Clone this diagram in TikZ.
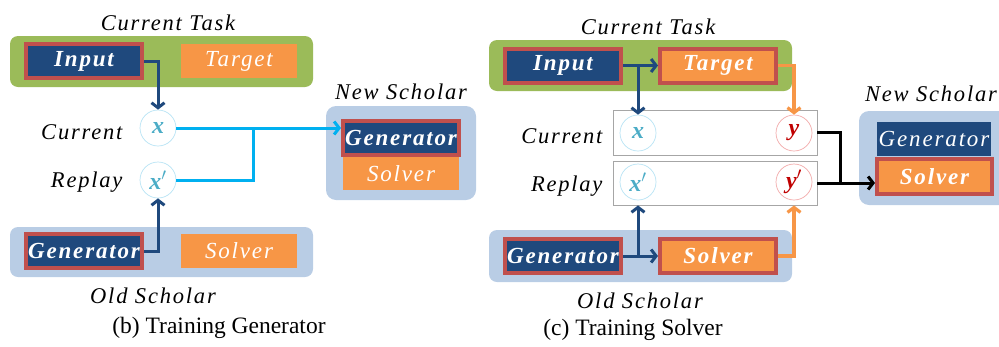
\documentclass[tikz,border=0pt]{standalone}
\usepackage{fontspec}
\setmainfont{Liberation Serif}
\newfontfamily\spacedfont[LetterSpace=8]{Liberation Serif}
\usetikzlibrary{arrows.meta}
\definecolor{navy}{HTML}{1F497D}
\definecolor{redb}{HTML}{C0504D}
\definecolor{orng}{HTML}{F79646}
\definecolor{grn}{HTML}{9BBB59}
\definecolor{pale}{HTML}{B9CDE5}
\definecolor{cyn}{HTML}{00B0F0}
\definecolor{teal}{HTML}{4BACC6}
\definecolor{dred}{HTML}{C00000}
\definecolor{xring}{HTML}{B7E3F4}
\definecolor{yring}{HTML}{F2A9A9}
\begin{document}
\begin{tikzpicture}[x=1pt,y=-1pt,>={Straight Barb[length=5pt,width=13pt]},
    box/.style={minimum width=116pt,minimum height=34pt,inner sep=0pt,text=white,
      font=\spacedfont\itshape\fontsize{23}{23}\selectfont},
    hot/.style={box,draw=redb,line width=4pt,font=\spacedfont\bfseries\itshape\fontsize{23}{23}\selectfont},
    gen/.style={fill=navy},
    sol/.style={fill=orng},
    var/.style={circle,minimum size=36pt,inner sep=0pt,line width=0.7pt,
      font=\bfseries\itshape\fontsize{24}{24}\selectfont},
    xvar/.style={var,draw=xring,text=teal},
    yvar/.style={var,draw=yring,text=dred},
    row/.style={draw=gray!70,line width=0.8pt,minimum width=204pt,inner sep=0pt},
    lbl/.style={font=\spacedfont\itshape\fontsize{22.5}{22.5}\selectfont},
    capt/.style={font=\fontsize{23.5}{23.5}\selectfont},
    navyline/.style={draw=navy,line width=3pt},
    cynline/.style={draw=cyn,line width=3pt},
    orline/.style={draw=orng,line width=3.2pt},
    blkline/.style={draw=black,line width=3pt}]
    \useasboundingbox (0,0) rectangle (999,346);

    % (b) training generator
    \fill[grn,rounded corners=8pt] (10,36) rectangle (313,87);
    \fill[pale,rounded corners=8pt] (10,227) rectangle (313,277);
    \fill[pale,rounded corners=10pt] (326,106) rectangle (476,200);
    \node[lbl] (bTaskLbl) at (168,23) {Current Task};
    \node[lbl] (bOldLbl) at (153,296) {Old Scholar};
    \node[lbl] (bNewLbl) at (401,92) {New Scholar};
    \node[capt] (bCap) at (219,328) {(b) Training Generator};

    \node[hot,gen] (bInput) at (84,61) {Input};
    \node[box,sol] (bTarget) at (239,61) {Target};
    \node[hot,gen] (bGen) at (84,251) {Generator};
    \node[box,sol] (bSol) at (239,251) {Solver};
    \node[hot,gen] (bNGen) at (401,138) {Generator};
    \node[box,sol,minimum height=33pt] (bNSol) at (401,173.5) {Solver};

    \node[xvar] (bX) at (158,128) {x};
    \node[xvar] (bXr) at (158,180) {x$'$};
    \node[lbl,anchor=east] (bCurLbl) at (126,132) {Current};
    \node[lbl,anchor=east] (bRepLbl) at (126,182) {Replay};
    \coordinate (bJoin) at (253,128);

    \draw[navyline,->] (bInput.east) -| (bX.north);
    \draw[navyline,->] (bGen.east) -| (bXr.south);
    \draw[cynline,->] (bX.east) -- (bX.east -| bNGen.west);
    \draw[cynline] (bXr.east) -| (bJoin);

    % (c) training solver
    \fill[grn,rounded corners=8pt] (489,40) rectangle (792,91);
    \fill[pale,rounded corners=8pt] (489,230) rectangle (792,282);
    \fill[pale,rounded corners=10pt] (859,111) rectangle (1012,205);
    \node[lbl] (cTaskLbl) at (648,27) {Current Task};
    \node[lbl] (cOldLbl) at (640,301) {Old Scholar};
    \node[lbl] (cNewLbl) at (931,94) {New Scholar};
    \node[capt] (cCap) at (633,330) {(c) Training Solver};

    \node[hot,gen] (cInput) at (563,65.5) {Input};
    \node[hot,sol] (cTarget) at (718,65.5) {Target};
    \node[hot,gen] (cGen) at (563,256) {Generator};
    \node[hot,sol] (cSol) at (718,256) {Solver};
    \node[box,gen,minimum width=114pt] (cNGen) at (934,139) {Generator};
    \node[hot,sol,minimum width=115pt,minimum height=35pt] (cNSol) at (934.5,176.5) {Solver};

    \node[row,minimum height=45pt] (cCur) at (715,132.5) {};
    \node[row,minimum height=44pt] (cRep) at (715,183) {};
    \node[xvar] (cX) at (638,133) {x};
    \node[yvar] (cY) at (794,133) {y};
    \node[xvar] (cXr) at (638,182) {x$'$};
    \node[yvar] (cYr) at (794,182) {y$'$};
    \node[lbl,anchor=east] (cCurLbl) at (606,136) {Current};
    \node[lbl,anchor=east] (cRepLbl) at (606,186) {Replay};
    \coordinate (cJoin) at (840,183);

    \draw[navyline,->] (cInput.east) -- (cTarget.west);
    \draw[navyline,->] (cX.north |- cInput.east) -- (cX.north);
    \draw[navyline,->] (cGen.east) -- (cSol.west);
    \draw[navyline,->] (cXr.south |- cGen.east) -- (cRep.south -| cXr.south);
    \draw[orline,->] (cTarget.east) -| (cY.north);
    \draw[orline,->] (cSol.east) -| (cRep.south -| cYr.south);
    \draw[blkline] (cCur.east) -| (cJoin);
    \draw[blkline,->] (cRep.east) -- (cRep.east -| cNSol.west);
\end{tikzpicture}
\end{document}
